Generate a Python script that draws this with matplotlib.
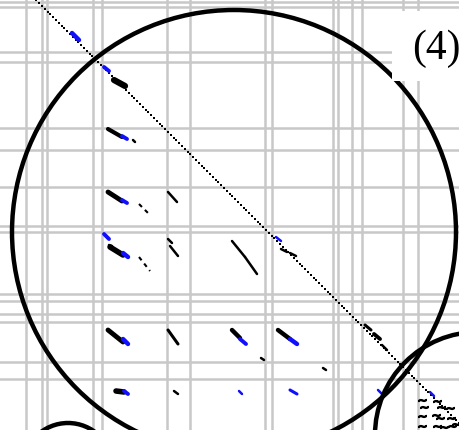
import numpy as np
import matplotlib
matplotlib.use("Agg")
import matplotlib.pyplot as plt
from matplotlib.patches import Circle, Rectangle

# Block boundaries of the sparse matrix (column / row index)
col_bounds = [26, 42, 47, 93, 102, 167, 190, 265, 272, 333, 338, 352, 362, 403, 418]
row_bounds = [3, 8, 53, 63, 129, 151, 188, 227, 233, 295, 302, 315, 323, 363, 380]

# Main diagonal offset (column = row + offset)
diag_offset = 35
diag_rows = np.arange(-35, 432, 2.8)

# Off-diagonal nonzero runs: (col0, row0, col1, row1)
black_runs = [
    (114, 81, 125, 87), (108, 130, 122, 138), (133, 141, 135, 143),
    (108, 193, 122, 202), (168, 193, 177, 203),
    (110, 248, 123, 256), (109, 246, 112, 247),
    (168, 240, 172, 244), (170, 247, 178, 257),
    (108, 331, 123, 343), (168, 331, 178, 345),
    (116, 392, 124, 393), (174, 392, 178, 395),
    (232, 242, 245, 258), (245, 258, 257, 275),
    (281, 250, 287, 253), (290, 254, 296, 257),
    (232, 331, 240, 339), (278, 331, 290, 340),
    (261, 359, 264, 361), (323, 369, 326, 371),
    (365, 326, 371, 331), (374, 335, 380, 340), (382, 346, 387, 351),
]
black_weight = [4.5, 3, 1.8, 3.5, 1.8, 4, 1.8, 1.8, 1.8, 3.5, 2.2, 4, 1.8,
                1.8, 1.8, 1.8, 1.8, 3.2, 3.2, 1.8, 1.8, 2.2, 2.8, 1.8]

dashed_runs = [(139, 205, 150, 216), (139, 258, 150, 272)]

blue_runs = [
    (72, 34, 79, 41), (104, 68, 109, 72), (122, 137, 127, 140),
    (122, 201, 127, 204), (104, 235, 109, 240), (123, 254, 128, 258),
    (123, 340, 128, 345), (124, 392, 128, 395),
    (240, 340, 246, 345), (290, 340, 297, 345),
    (276, 238, 281, 242), (239, 392, 242, 395), (290, 391, 297, 395),
    (378, 391, 382, 395), (430, 393, 434, 397),
]
blue_weight = [3.2, 2.8, 2.8, 2.8, 2.8, 3.2, 3.2, 2.8, 2.8, 3.2, 1.8, 1.8, 2.2, 1.8, 1.8]

# Lower-triangular fill of the last block (col, row)
tail_cols = [422, 424, 437, 441, 450, 422, 436, 440, 451, 422, 437, 444, 452, 456]
tail_rows = [401, 408, 402, 408, 409, 417, 416, 419, 419, 427, 427, 428, 427, 425]

# Highlighted regions: (x, y, radius)
rings = [(234, 233, 222), (478, 436, 103), (68, 469, 45)]
panel_label = "(4)"

fig = plt.figure(figsize=(4.6, 4.31), dpi=100)
ax = fig.add_axes([0, 0, 1, 1])
ax.set_xlim(0, 460)
ax.set_ylim(431, 0)
ax.axis("off")

grid_kw = dict(color="#c8c8c8", lw=1.8, zorder=1)
for c in col_bounds:
    ax.axvline(c, **grid_kw)
for r in row_bounds:
    ax.axhline(r, **grid_kw)

ax.plot(diag_rows + diag_offset, diag_rows, ls="none", marker="s",
        ms=1.7, mew=0, color="black", zorder=3)

for (x0, y0, x1, y1), w in zip(black_runs, black_weight):
    ax.plot([x0, x1], [y0, y1], color="black", lw=w, solid_capstyle="round", zorder=3)
for x0, y0, x1, y1 in dashed_runs:
    ax.plot([x0, x1], [y0, y1], color="black", lw=1.5, ls=(0, (2, 2)), zorder=3)
for (x0, y0, x1, y1), w in zip(blue_runs, blue_weight):
    ax.plot([x0, x1], [y0, y1], color="#1010ff", lw=w, solid_capstyle="round", zorder=4)

ax.plot(tail_cols, tail_rows, ls="none", marker="$\\sim$", ms=5.5, color="black", zorder=3)

for cx, cy, r in rings:
    ax.add_patch(Circle((cx, cy), r, fill=False, lw=3.2, ec="black", zorder=5))

ax.add_patch(Rectangle((392, 12), 70, 70, fc="white", ec="none", zorder=6))
ax.text(412, 49, panel_label, family="Liberation Serif", fontsize=30,
        ha="left", va="center", color="black", zorder=7)

fig.savefig("out.png", dpi=100)
